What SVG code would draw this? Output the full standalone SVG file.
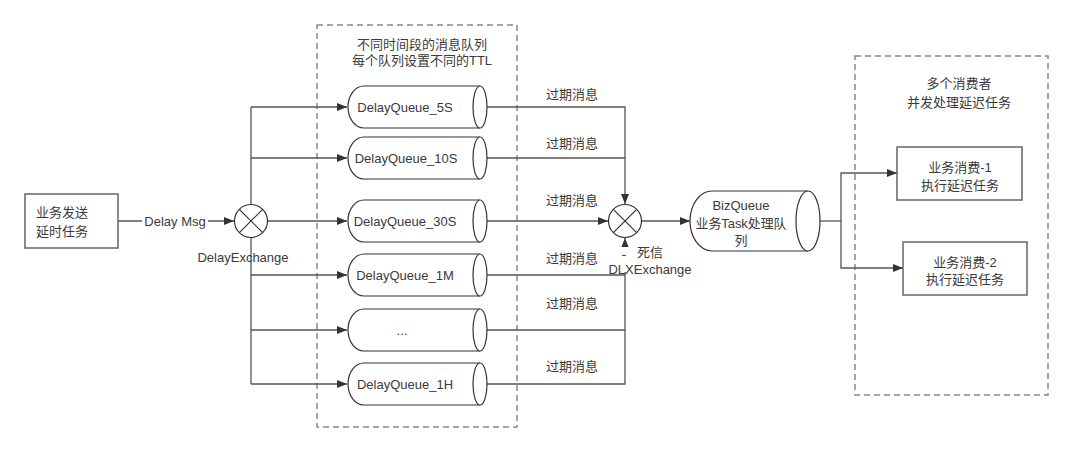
<svg xmlns="http://www.w3.org/2000/svg" width="1072" height="452" viewBox="0 0 1072 452">
<defs>
<marker id="arr" viewBox="0 0 10 8" refX="10" refY="4" markerWidth="10" markerHeight="8" markerUnits="userSpaceOnUse" orient="auto">
<path d="M0,0 L10,4 L0,8 Z" fill="#333"/>
</marker>
<style>
text{font-family:"Liberation Sans","Noto Sans CJK SC",sans-serif;font-size:13px;fill:#3a3a3a;text-anchor:middle;dominant-baseline:central}
.ln{fill:none;stroke:#555;stroke-width:1.3}
.ar{marker-end:url(#arr)}
.dash{fill:none;stroke:#888;stroke-width:1.5;stroke-dasharray:6,4}
.box{fill:#fff;stroke:#666;stroke-width:1.5}
.cyl{fill:#fff;stroke:#333;stroke-width:1.2}
.ex{fill:#fff;stroke:#333;stroke-width:1.2}
</style>
</defs>
<rect width="1072" height="452" fill="#fff"/>

<g id="groupQueues">
<rect class="dash" x="317" y="25" width="200" height="402"/>
<text x="422" y="44">不同时间段的消息队列</text>
<text x="422" y="60">每个队列设置不同的TTL</text>
</g>
<g id="groupConsumers">
<rect class="dash" x="855" y="56" width="193" height="339"/>
<text x="959" y="83">多个消费者</text>
<text x="959" y="102">并发处理延迟任务</text>
</g>

<g id="connectors">
<line class="ln ar" x1="118" y1="221" x2="234" y2="221"/>
<rect x="142" y="213" width="66" height="16" fill="#fff"/>
<text x="175" y="221">Delay Msg</text>
<line class="ln" x1="251" y1="107" x2="251" y2="384"/>
<line class="ln ar" x1="251" y1="107" x2="347" y2="107"/>
<line class="ln ar" x1="251" y1="158" x2="347" y2="158"/>
<line class="ln ar" x1="268" y1="221" x2="347" y2="221"/>
<line class="ln ar" x1="251" y1="275" x2="347" y2="275"/>
<line class="ln ar" x1="251" y1="330" x2="347" y2="330"/>
<line class="ln ar" x1="251" y1="384" x2="347" y2="384"/>

<polyline class="ln ar" points="487,107 625,107 625,204"/>
<line class="ln" x1="487" y1="158" x2="625" y2="158"/>
<line class="ln ar" x1="487" y1="221" x2="608" y2="221"/>
<line class="ln" x1="487" y1="275" x2="625" y2="275"/>
<line class="ln" x1="487" y1="330" x2="625" y2="330"/>
<polyline class="ln ar" points="487,384 625,384 625,238"/>
<text x="572" y="94">过期消息</text>
<text x="572" y="143">过期消息</text>
<text x="572" y="200">过期消息</text>
<text x="572" y="258">过期消息</text>
<text x="572" y="303">过期消息</text>
<text x="572" y="366">过期消息</text>
<rect x="606" y="247" width="90" height="25" fill="#fff"/>
<line x1="622" y1="255.5" x2="626" y2="255.5" stroke="#555" stroke-width="1.2"/>
<text x="650" y="252">死信</text>
<text x="650" y="269">DLXExchange</text>

<line class="ln ar" x1="642" y1="221" x2="690" y2="221"/>
<polyline class="ln" points="820,221 841,221"/>
<polyline class="ln ar" points="841,221 841,173 897,173"/>
<polyline class="ln ar" points="841,221 841,268 903,268"/>
</g>

<g id="sender">
<rect class="box" x="25" y="194" width="93" height="54"/>
<text x="62" y="212">业务发送</text>
<text x="62" y="231">延时任务</text>
</g>

<g id="delayExchange">
<circle class="ex" cx="251" cy="221" r="16.5"/>
<path d="M239.3,209.3 L262.7,232.7 M262.7,209.3 L239.3,232.7" stroke="#333" stroke-width="1.2"/>
<text x="243" y="257">DelayExchange</text>
</g>

<g id="q5s">
<path class="cyl" d="M480,86 L364,86 A16,21 0 0 0 364,128 L480,128"/>
<ellipse class="cyl" cx="480" cy="107" rx="7" ry="21"/>
<text x="405" y="107">DelayQueue_5S</text>
</g>
<g id="q10s">
<path class="cyl" d="M480,137 L364,137 A16,21 0 0 0 364,179 L480,179"/>
<ellipse class="cyl" cx="480" cy="158" rx="7" ry="21"/>
<text x="406" y="158">DelayQueue_10S</text>
</g>
<g id="q30s">
<path class="cyl" d="M480,200 L364,200 A16,21 0 0 0 364,242 L480,242"/>
<ellipse class="cyl" cx="480" cy="221" rx="7" ry="21"/>
<text x="405" y="221">DelayQueue_30S</text>
</g>
<g id="q1m">
<path class="cyl" d="M480,254 L364,254 A16,21 0 0 0 364,296 L480,296"/>
<ellipse class="cyl" cx="480" cy="275" rx="7" ry="21"/>
<text x="405" y="275">DelayQueue_1M</text>
</g>
<g id="qdots">
<path class="cyl" d="M480,309 L364,309 A16,21 0 0 0 364,351 L480,351"/>
<ellipse class="cyl" cx="480" cy="330" rx="7" ry="21"/>
<text x="402" y="330">...</text>
</g>
<g id="q1h">
<path class="cyl" d="M480,363 L364,363 A16,21 0 0 0 364,405 L480,405"/>
<ellipse class="cyl" cx="480" cy="384" rx="7" ry="21"/>
<text x="405" y="384">DelayQueue_1H</text>
</g>

<g id="dlxExchange">
<circle class="ex" cx="625" cy="221" r="16.5"/>
<path d="M613.3,209.3 L636.7,232.7 M636.7,209.3 L613.3,232.7" stroke="#333" stroke-width="1.2"/>
</g>

<g id="bizQueue">
<path class="cyl" d="M808,191 L712,191 A22,30 0 0 0 712,251 L808,251"/>
<ellipse class="cyl" cx="808" cy="221" rx="12" ry="30"/>
<text x="741" y="205">BizQueue</text>
<text x="741" y="223" textLength="91" lengthAdjust="spacingAndGlyphs">业务Task处理队</text>
<text x="741" y="240">列</text>
</g>

<g id="consumer1">
<rect class="box" x="897" y="147" width="125" height="53"/>
<text x="960" y="167">业务消费-1</text>
<text x="960" y="185">执行延迟任务</text>
</g>
<g id="consumer2">
<rect class="box" x="903" y="242" width="124" height="53"/>
<text x="965" y="262">业务消费-2</text>
<text x="965" y="279">执行延迟任务</text>
</g>
</svg>
